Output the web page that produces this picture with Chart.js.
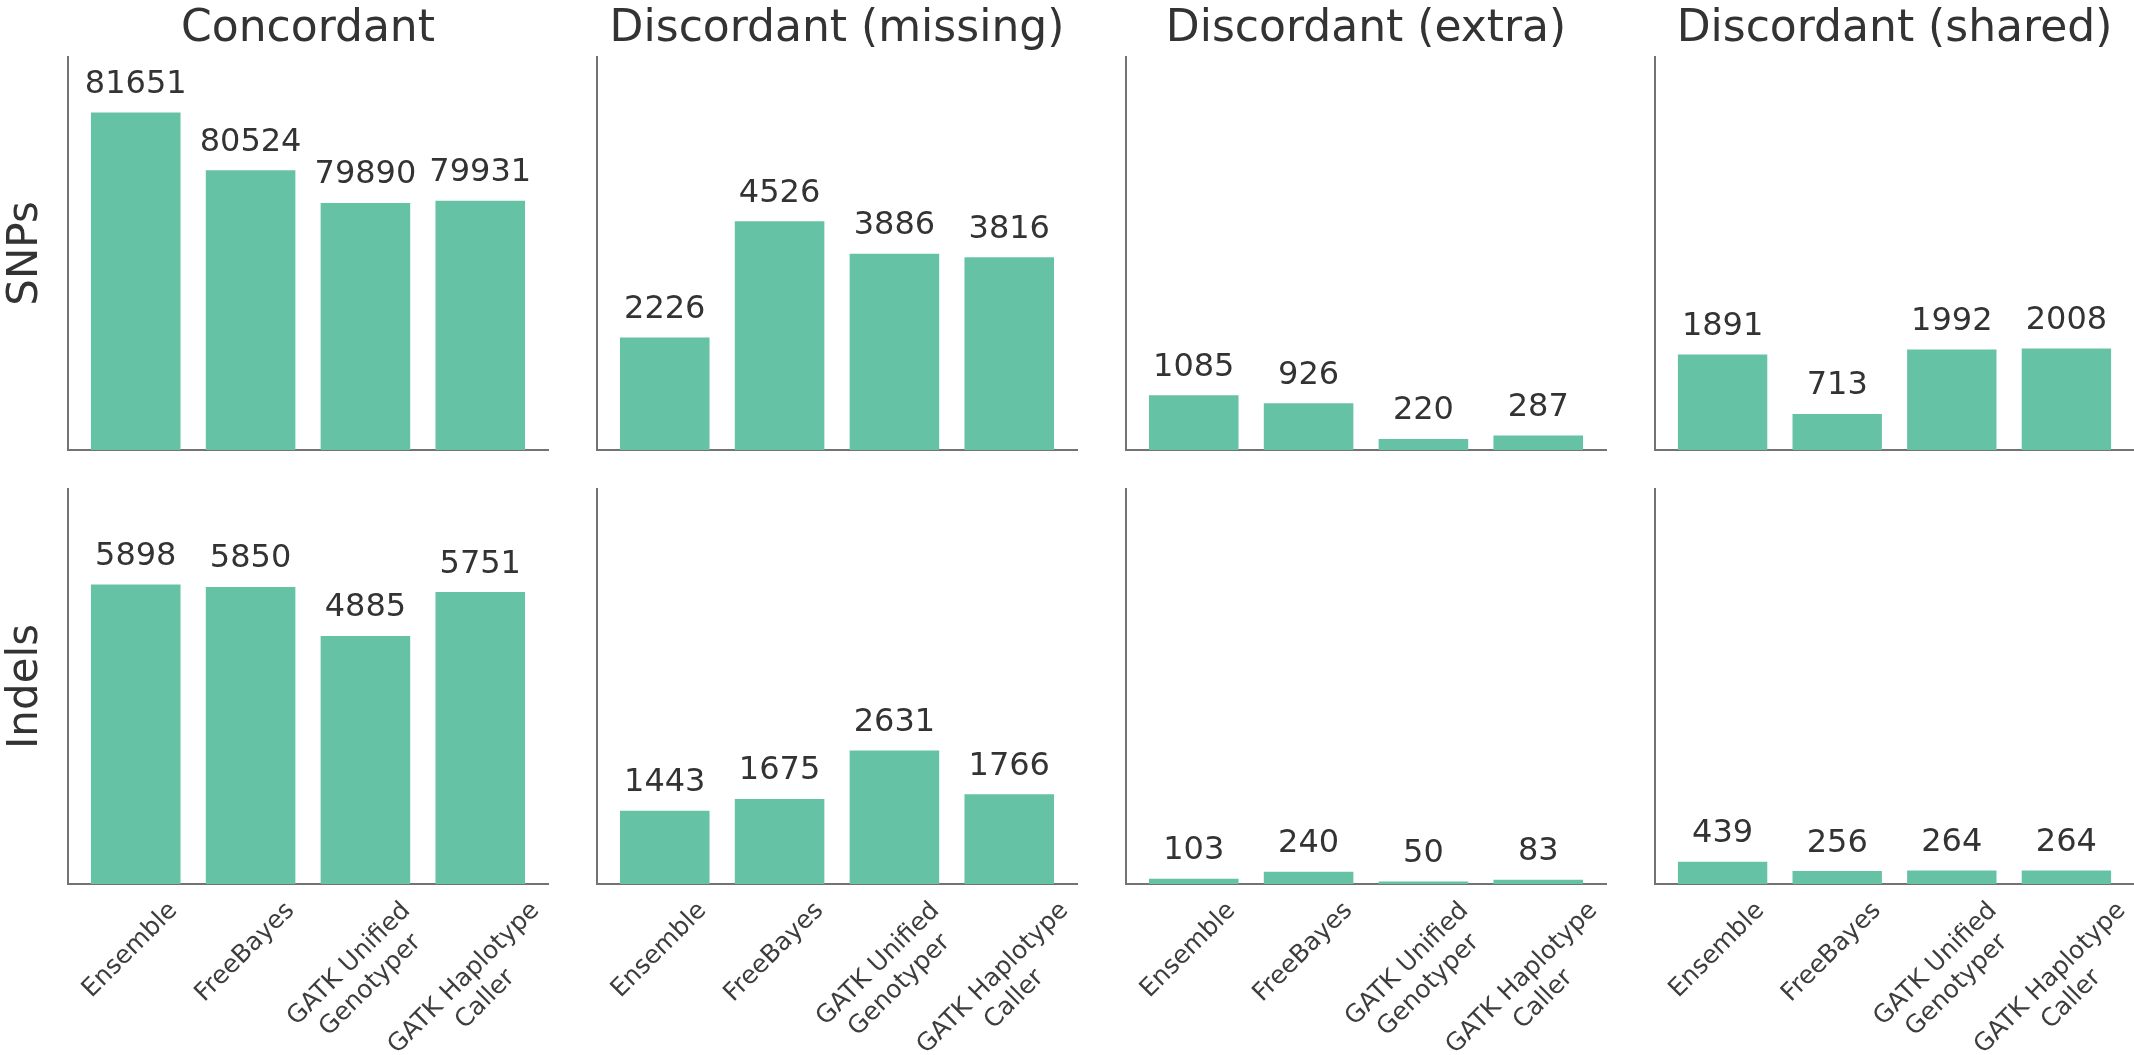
<!DOCTYPE html>
<html>
<head>
<meta charset="utf-8">
<title>Variant calling comparison</title>
<script src="https://cdn.jsdelivr.net/npm/chart.js@4.4.1/dist/chart.umd.min.js"></script>
<style>
  html, body { margin: 0; padding: 0; background: #ffffff; overflow: hidden; }
  #fig { position: relative; width: 2134px; height: 1055px; }
  #fig canvas { position: absolute; left: 0; top: 0; }
</style>
</head>
<body>
<div id="fig"></div>
<script>
// ---- data -------------------------------------------------------------
const callers = ['Ensemble', 'FreeBayes', 'GATK Unified\nGenotyper', 'GATK Haplotype\nCaller'];
const columnTitles = ['Concordant', 'Discordant (missing)', 'Discordant (extra)', 'Discordant (shared)'];
const rowTitles = ['SNPs', 'Indels'];

const snpConcordant = [81651, 80524, 79890, 79931];
const snpMissing    = [2226, 4526, 3886, 3816];
const snpExtra      = [1085, 926, 220, 287];
const snpShared     = [1891, 713, 1992, 2008];

const indelConcordant = [5898, 5850, 4885, 5751];
const indelMissing    = [1443, 1675, 2631, 1766];
const indelExtra      = [103, 240, 50, 83];
const indelShared     = [439, 256, 264, 264];

// value ranges of the y axes
const snpConcordantRange = [75080, 82730];
const countRange = [0, 7780];

// ---- layout & style ---------------------------------------------------
const W = 2134, H = 1055;
const panelLeft = [68, 597, 1126, 1655];
const panelWidth = 480;
const rowTop = [57, 489];
const rowBottom = [450, 884];
const BAR = '#66c2a5';
const SPINE = '#737373';
const TEXT = '#333333';
const FONT = '"DejaVu Sans", "Liberation Sans", sans-serif';

function drawTickLabel(ctx, lines, tx, top, f) {
  ctx.font = f + 'px ' + FONT;
  const w = Math.max(...lines.map(l => ctx.measureText(l).width));
  const lh = 1.2 * f, asc = 0.93 * f, desc = 0.24 * f;
  const h = (lines.length - 1) * lh + asc + desc;
  const half = (w + h) * Math.SQRT1_2 / 2;
  ctx.save();
  ctx.translate(tx - 7, top + half);
  ctx.rotate(-Math.PI / 4);
  ctx.textAlign = 'center';
  ctx.textBaseline = 'alphabetic';
  lines.forEach((l, k) => ctx.fillText(l, 0, -h / 2 + asc + k * lh));
  ctx.restore();
}

// Titles, row names, bar value annotations and category labels
const panelText = {
  id: 'panelText',
  afterDraw(chart, args, opts) {
    const ctx = chart.ctx;
    const area = chart.chartArea;
    const meta = chart.getDatasetMeta(0);
    const values = chart.data.datasets[0].data;
    ctx.save();
    ctx.fillStyle = TEXT;

    // value above each bar
    ctx.font = '32px ' + FONT;
    ctx.textAlign = 'center';
    ctx.textBaseline = 'alphabetic';
    meta.data.forEach((el, i) => {
      ctx.fillText(String(values[i].y), el.x, el.y - 19.5);
    });

    // column title
    if (opts.title) {
      ctx.font = '44px ' + FONT;
      ctx.textAlign = 'center';
      ctx.fillText(opts.title, (area.left + area.right) / 2, 41);
    }

    // row name
    if (opts.rowName) {
      ctx.save();
      ctx.font = '42px ' + FONT;
      ctx.translate(37, (area.top + area.bottom) / 2);
      ctx.rotate(-Math.PI / 2);
      ctx.textAlign = 'center';
      ctx.fillText(opts.rowName, 0, 0);
      ctx.restore();
    }

    // category labels
    if (opts.showCategories) {
      ctx.fillStyle = '#3d3d3d';
      const xs = chart.scales.x;
      callers.forEach((c, i) => {
        drawTickLabel(ctx, c.split('\n'), xs.getPixelForValue(i), area.bottom + 11, 25);
      });
    }
    ctx.restore();
  }
};

const fig = document.getElementById('fig');

function makePanel(row, col, values, range) {
  const canvas = document.createElement('canvas');
  canvas.width = W;
  canvas.height = H;
  canvas.style.width = W + 'px';
  canvas.style.height = H + 'px';
  fig.appendChild(canvas);

  const left = panelLeft[col];
  const axisStyle = {
    offset: false,
    grid: { display: false, drawTicks: false, offset: false },
    ticks: { display: false },
    border: { display: true, color: SPINE, width: 2 }
  };

  new Chart(canvas, {
    type: 'bar',
    data: {
      datasets: [{
        data: values.map((v, i) => ({ x: i, y: v })),
        backgroundColor: BAR,
        borderWidth: 0,
        barPercentage: 0.78,
        categoryPercentage: 1,
        clip: 0
      }]
    },
    options: {
      responsive: false,
      animation: false,
      events: [],
      layout: {
        padding: {
          left: left,
          right: W - left - panelWidth,
          top: rowTop[row],
          bottom: H - rowBottom[row]
        }
      },
      plugins: {
        legend: { display: false },
        tooltip: { enabled: false },
        panelText: {
          title: row === 0 ? columnTitles[col] : '',
          rowName: col === 0 ? rowTitles[row] : '',
          showCategories: row === 1
        }
      },
      scales: {
        x: Object.assign({
          type: 'linear', min: -0.59, max: 3.59,
          afterBuildTicks: s => { s.ticks = callers.map((c, i) => ({ value: i })); },
          afterFit: s => { s.height = 0; }
        }, axisStyle),
        y: Object.assign({
          type: 'linear', min: range[0], max: range[1],
          afterFit: s => { s.width = 0; }
        }, axisStyle)
      }
    },
    plugins: [panelText]
  });
}

const grid = [
  [snpConcordant, snpMissing, snpExtra, snpShared],
  [indelConcordant, indelMissing, indelExtra, indelShared]
];

grid.forEach((rowData, r) => {
  rowData.forEach((vals, c) => {
    const range = (r === 0 && c === 0) ? snpConcordantRange : countRange;
    makePanel(r, c, vals, range);
  });
});
</script>
</body>
</html>
